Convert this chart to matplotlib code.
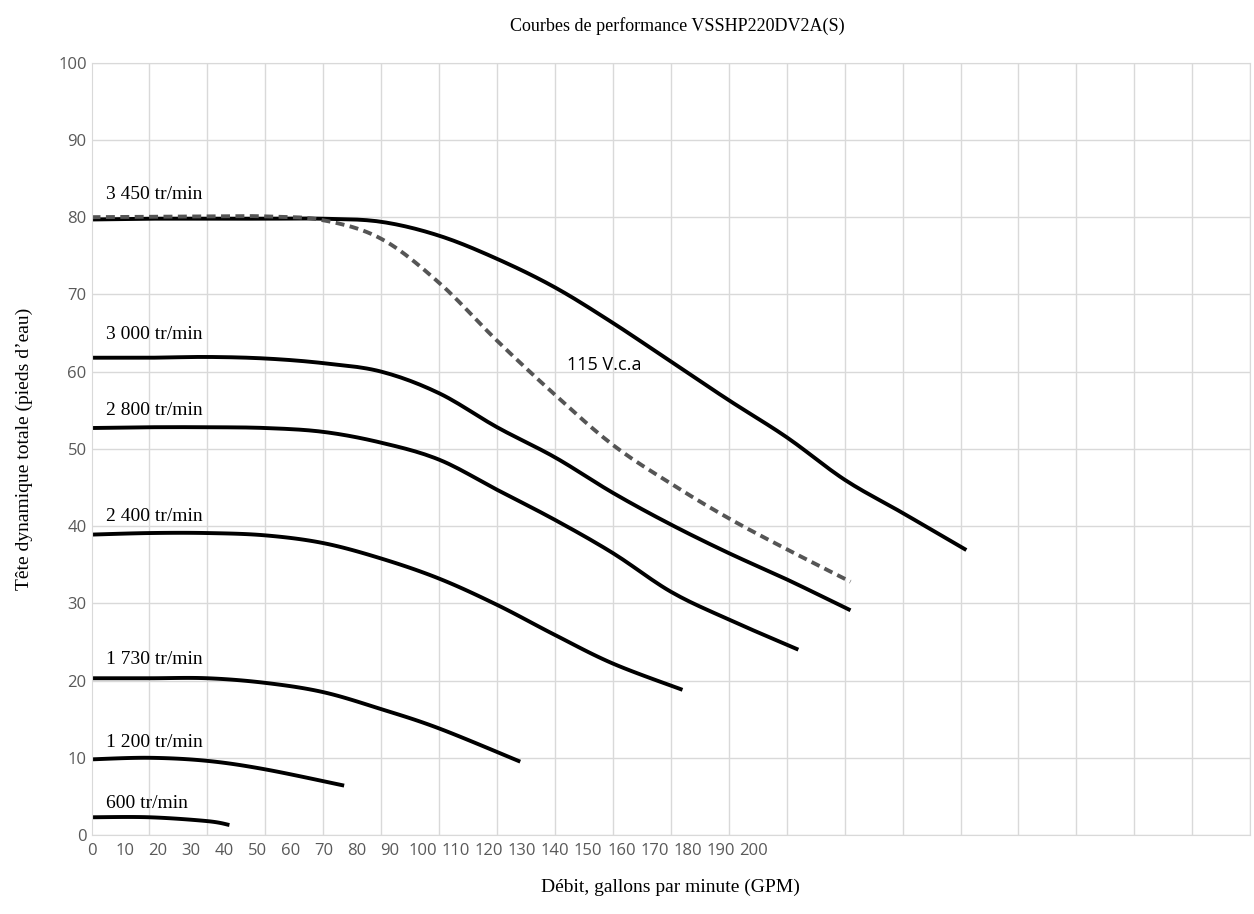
import matplotlib.pyplot as plt
import numpy as np

# Performance curves (flow GPM, head ft)
x3450 = [0, 10, 20, 30, 40, 50, 60, 70, 80, 90, 100, 110, 120, 130, 140, 151]
y3450 = [79.7, 79.8, 79.8, 79.8, 79.8, 79.4, 77.6, 74.6, 70.9, 66.3, 61.3, 56.3, 51.5, 46.0, 41.7, 36.9]
x3000 = [0, 10, 20, 30, 40, 50, 60, 70, 80, 90, 100, 110, 120, 131]
y3000 = [61.8, 61.8, 61.9, 61.7, 61.1, 60.0, 57.2, 52.8, 48.9, 44.3, 40.2, 36.5, 33.1, 29.1]
x2800 = [0, 10, 20, 30, 40, 50, 60, 70, 80, 90, 100, 110, 122]
y2800 = [52.7, 52.8, 52.8, 52.7, 52.2, 50.8, 48.6, 44.7, 40.8, 36.5, 31.5, 27.9, 24.0]
x2400 = [0, 10, 20, 30, 40, 50, 60, 70, 80, 90, 102]
y2400 = [38.9, 39.1, 39.1, 38.8, 37.8, 35.8, 33.2, 29.8, 25.9, 22.2, 18.8]
x1730 = [0, 10, 20, 30, 40, 50, 60, 74]
y1730 = [20.3, 20.3, 20.3, 19.7, 18.5, 16.3, 13.8, 9.5]
x1200 = [0, 10, 20, 30, 43.6]
y1200 = [9.8, 10.0, 9.6, 8.5, 6.4]
x600 = [0, 10, 20, 23.8]
y600 = [2.3, 2.3, 1.8, 1.3]
x115v = [0, 20, 30, 40, 50, 60, 70, 80, 90, 100, 110, 120, 131]
y115v = [80.0, 80.1, 80.1, 79.6, 77.2, 71.5, 64.0, 57.0, 50.5, 45.5, 41.0, 37.0, 32.8]

curves = [(x3450, y3450, "3 450 tr/min", 82.9), (x3000, y3000, "3 000 tr/min", 64.8),
          (x2800, y2800, "2 800 tr/min", 55.0), (x2400, y2400, "2 400 tr/min", 41.2),
          (x1730, y1730, "1 730 tr/min", 22.7), (x1200, y1200, "1 200 tr/min", 12.0),
          (x600, y600, "600 tr/min", 4.1)]

tick_labels = [str(v) for v in range(0, 201, 10)]

serif = ['Liberation Serif', 'DejaVu Serif']
sans = ['Open Sans', 'DejaVu Sans']


def smooth(xs, ys, n=12):
    # Catmull-Rom through the read points, like the smoothed lines of the original
    p = np.column_stack([xs, ys]).astype(float)
    p = np.vstack([p[0], p, p[-1]])
    out = []
    t = np.linspace(0, 1, n, endpoint=False)[:, None]
    for i in range(1, len(p) - 2):
        p0, p1, p2, p3 = p[i - 1], p[i], p[i + 1], p[i + 2]
        out.append(0.5 * ((2 * p1) + (-p0 + p2) * t + (2 * p0 - 5 * p1 + 4 * p2 - p3) * t ** 2
                          + (-p0 + 3 * p1 - 3 * p2 + p3) * t ** 3))
    out.append(p[-2][None, :])
    out = np.vstack(out)
    return out[:, 0], out[:, 1]


fig = plt.figure(figsize=(12.54, 9.14), dpi=100)
ax = fig.add_axes([0.073, 0.0864, 0.924, 0.845])

for xs, ys, lab, ly in curves:
    ax.plot(*smooth(xs, ys), color='black', lw=2.8, solid_capstyle='butt')
    ax.text(2.5, ly, lab, family=serif, fontsize=14, va='center', ha='left')
ax.plot(*smooth(x115v, y115v), color='#555555', lw=2.8, ls=(0, (2.3, 1.4)))
ax.text(82, 60.9, "115 V.c.a", family=sans, fontsize=13, va='center')

ax.set_xlim(0, 200)
ax.set_ylim(0, 100)
ax.set_yticks(np.arange(0, 101, 10))
ax.set_xticks(np.arange(0, 201, 10), minor=True)
ax.set_xticks(np.arange(21) * 5.716)
ax.set_xticklabels(tick_labels)
ax.tick_params(axis='both', which='both', length=0, labelcolor='#595959', labelsize=12)
ax.tick_params(axis='x', pad=6)
for lbl in ax.get_xticklabels() + ax.get_yticklabels():
    lbl.set_family(sans)
ax.grid(False)
ax.grid(True, which='minor', axis='x', color='#d9d9d9', lw=1)
ax.grid(True, which='major', axis='y', color='#d9d9d9', lw=1)
ax.set_axisbelow(True)
for s in ax.spines.values():
    s.set_color('#d9d9d9')

ax.set_xlabel("Débit, gallons par minute (GPM)", family=serif, fontsize=14, labelpad=14)
ax.set_ylabel("Tête dynamique totale (pieds d’eau)", family=serif, fontsize=14, labelpad=18)
fig.text(0.54, 0.972, "Courbes de performance VSSHP220DV2A(S)", family=serif, fontsize=13, ha='center', va='center')

fig.savefig('out.png')
